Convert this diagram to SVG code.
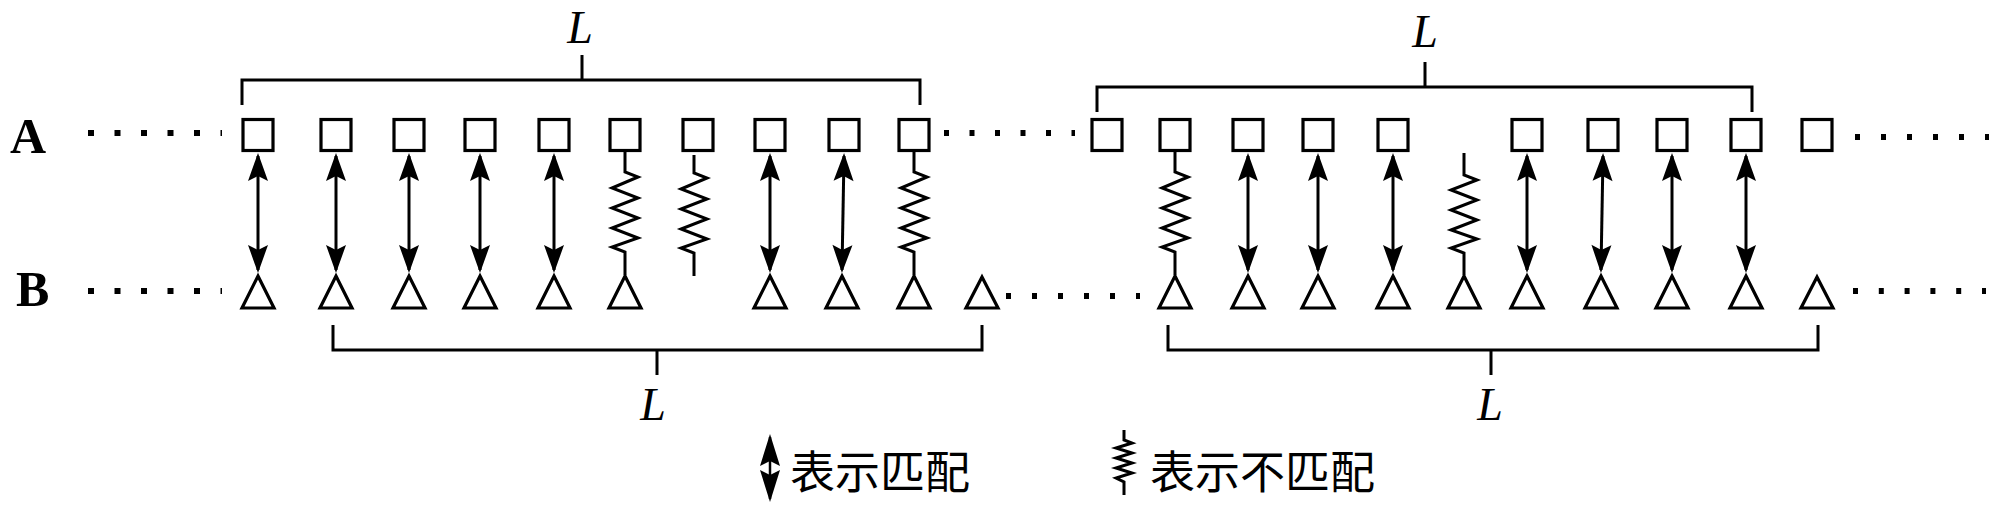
<svg xmlns="http://www.w3.org/2000/svg" width="2000" height="517" viewBox="0 0 2000 517">
<style>
.sq{fill:#fff;stroke:#000;stroke-width:3.2}
.tri{fill:#fff;stroke:#000;stroke-width:3.2;stroke-linejoin:miter}
.ln{stroke:#000;stroke-width:3;fill:none}
.ar{stroke:#000;stroke-width:3;fill:none;marker-start:url(#ah);marker-end:url(#ah)}
.zz{stroke:#000;stroke-width:3;fill:none;stroke-linejoin:miter}
.dots{stroke:#000;stroke-width:6;fill:none}
.lab{font-family:"Liberation Serif",serif;font-weight:bold;font-size:50px;fill:#000}
.L{font-family:"Liberation Serif",serif;font-style:italic;font-size:46px;fill:#000;text-anchor:middle}
.cjk{font-family:"Noto Sans CJK SC",sans-serif;font-size:45px;fill:#000}
</style>
<defs>
<marker id="ah" viewBox="-30 -12 32 24" refX="-3" refY="0" markerWidth="32" markerHeight="24" orient="auto-start-reverse" markerUnits="userSpaceOnUse">
<path d="M0,0 L-28,-10 L-23,0 L-28,10 Z" fill="#000"/>
</marker>
<marker id="ahl" viewBox="-34 -12 36 24" refX="-3" refY="0" markerWidth="36" markerHeight="24" orient="auto-start-reverse" markerUnits="userSpaceOnUse">
<path d="M0,0 L-32,-10 L-27,0 L-32,10 Z" fill="#000"/>
</marker>
</defs>
<rect width="2000" height="517" fill="#fff"/>

<g id="labels">
<text class="lab" x="10" y="153">A</text>
<text class="lab" x="16" y="306">B</text>
<text class="L" x="580" y="43">L</text>
<text class="L" x="1425" y="47">L</text>
<text class="L" x="653" y="420">L</text>
<text class="L" x="1490" y="420">L</text>
</g>

<g id="ellipses">
<line class="dots" x1="88" y1="133" x2="222" y2="133" stroke-dasharray="6 20.5"/>
<line class="dots" x1="88" y1="291" x2="222" y2="291" stroke-dasharray="6 20.5"/>
<line class="dots" x1="944" y1="133" x2="1075" y2="133" stroke-dasharray="5 20.5"/>
<line class="dots" x1="1006" y1="296" x2="1140" y2="296" stroke-dasharray="5 21"/>
<line class="dots" x1="1855" y1="137" x2="1989" y2="137" stroke-dasharray="5 21"/>
<line class="dots" x1="1853" y1="291" x2="1986" y2="291" stroke-dasharray="5 20.8"/>
</g>

<g id="brackets">
<path class="ln" d="M242,105 V80 H920 V105 M582,55 V80"/>
<path class="ln" d="M1097,112 V87 H1752 V112 M1425,62 V87"/>
<path class="ln" d="M333,325 V350 H982 V325 M657,350 V375"/>
<path class="ln" d="M1168,325 V350 H1818 V325 M1491,350 V375"/>
</g>

<g id="connectors">
<line class="ar" x1="258" y1="156" x2="258" y2="270"/>
<line class="ar" x1="336" y1="156" x2="336" y2="270"/>
<line class="ar" x1="409" y1="156" x2="409" y2="270"/>
<line class="ar" x1="480" y1="156" x2="480" y2="270"/>
<line class="ar" x1="554" y1="156" x2="554" y2="270"/>
<path class="zz" d="M625,152 V172 L638,177 L612,188 L638,198 L612,208 L638,218 L612,228 L638,238 L612,247 L625,252 V275"/>
<path class="zz" d="M694,155 V173 L707,178 L681,189 L707,199 L681,209 L707,219 L681,229 L707,239 L681,248 L694,253 V276"/>
<line class="ar" x1="770" y1="156" x2="770" y2="270"/>
<line class="ar" x1="844" y1="156" x2="842" y2="270"/>
<path class="zz" d="M914,152 V172 L927,177 L901,188 L927,198 L901,208 L927,218 L901,228 L927,238 L901,247 L914,252 V275"/>
<path class="zz" d="M1175,152 V172 L1188,177 L1162,188 L1188,198 L1162,208 L1188,218 L1162,228 L1188,238 L1162,247 L1175,252 V275"/>
<line class="ar" x1="1248" y1="156" x2="1248" y2="270"/>
<line class="ar" x1="1318" y1="156" x2="1318" y2="270"/>
<line class="ar" x1="1393" y1="156" x2="1393" y2="270"/>
<path class="zz" d="M1464,153 V175 L1477,180 L1451,190 L1477,200 L1451,210 L1477,220 L1451,230 L1477,239 L1451,248 L1464,253 V275"/>
<line class="ar" x1="1527" y1="156" x2="1527" y2="270"/>
<line class="ar" x1="1603" y1="156" x2="1601" y2="270"/>
<line class="ar" x1="1672" y1="156" x2="1672" y2="270"/>
<line class="ar" x1="1746" y1="156" x2="1746" y2="270"/>
</g>

<g id="nodesA">
<g id="a1"><rect class="sq" x="243" y="119.5" width="30" height="31"/></g>
<g id="a2"><rect class="sq" x="321" y="119.5" width="30" height="31"/></g>
<g id="a3"><rect class="sq" x="394" y="119.5" width="30" height="31"/></g>
<g id="a4"><rect class="sq" x="465" y="119.5" width="30" height="31"/></g>
<g id="a5"><rect class="sq" x="539" y="119.5" width="30" height="31"/></g>
<g id="a6"><rect class="sq" x="610" y="119.5" width="30" height="31"/></g>
<g id="a7"><rect class="sq" x="683" y="119.5" width="30" height="31"/></g>
<g id="a8"><rect class="sq" x="755" y="119.5" width="30" height="31"/></g>
<g id="a9"><rect class="sq" x="829" y="119.5" width="30" height="31"/></g>
<g id="a10"><rect class="sq" x="899" y="119.5" width="30" height="31"/></g>
<g id="a11"><rect class="sq" x="1092" y="119.5" width="30" height="31"/></g>
<g id="a12"><rect class="sq" x="1160" y="119.5" width="30" height="31"/></g>
<g id="a13"><rect class="sq" x="1233" y="119.5" width="30" height="31"/></g>
<g id="a14"><rect class="sq" x="1303" y="119.5" width="30" height="31"/></g>
<g id="a15"><rect class="sq" x="1378" y="119.5" width="30" height="31"/></g>
<g id="a16"><rect class="sq" x="1512" y="119.5" width="30" height="31"/></g>
<g id="a17"><rect class="sq" x="1588" y="119.5" width="30" height="31"/></g>
<g id="a18"><rect class="sq" x="1657" y="119.5" width="30" height="31"/></g>
<g id="a19"><rect class="sq" x="1731" y="119.5" width="30" height="31"/></g>
<g id="a20"><rect class="sq" x="1802" y="119.5" width="30" height="31"/></g>
</g>

<g id="nodesB">
<g id="b1"><polygon class="tri" points="258,276 274,308 242,308"/></g>
<g id="b2"><polygon class="tri" points="336,276 352,308 320,308"/></g>
<g id="b3"><polygon class="tri" points="409,276 425,308 393,308"/></g>
<g id="b4"><polygon class="tri" points="480,276 496,308 464,308"/></g>
<g id="b5"><polygon class="tri" points="554,276 570,308 538,308"/></g>
<g id="b6"><polygon class="tri" points="625,276 641,308 609,308"/></g>
<g id="b7"><polygon class="tri" points="770,276 786,308 754,308"/></g>
<g id="b8"><polygon class="tri" points="842,276 858,308 826,308"/></g>
<g id="b9"><polygon class="tri" points="914,276 930,308 898,308"/></g>
<g id="b10"><polygon class="tri" points="982,277 998,308 966,308"/></g>
<g id="b11"><polygon class="tri" points="1175,276 1191,308 1159,308"/></g>
<g id="b12"><polygon class="tri" points="1248,276 1264,308 1232,308"/></g>
<g id="b13"><polygon class="tri" points="1318,276 1334,308 1302,308"/></g>
<g id="b14"><polygon class="tri" points="1393,276 1409,308 1377,308"/></g>
<g id="b15"><polygon class="tri" points="1464,276 1480,308 1448,308"/></g>
<g id="b16"><polygon class="tri" points="1527,276 1543,308 1511,308"/></g>
<g id="b17"><polygon class="tri" points="1601,276 1617,308 1585,308"/></g>
<g id="b18"><polygon class="tri" points="1672,276 1688,308 1656,308"/></g>
<g id="b19"><polygon class="tri" points="1746,276 1762,308 1730,308"/></g>
<g id="b20"><polygon class="tri" points="1817,277 1833,308 1801,308"/></g>
</g>

<g id="legend">
<g id="legend-match">
<line x1="770" y1="437" x2="770" y2="499" stroke="#000" stroke-width="2.5" marker-start="url(#ahl)" marker-end="url(#ahl)"/>
<text class="cjk" x="790" y="489">表示匹配</text>
</g>
<g id="legend-mismatch">
<path class="zz" stroke-width="2.5" d="M1124,430 V440 L1132,443 L1116,448 L1132,453 L1116,458 L1132,463 L1116,468 L1132,473 L1116,478 L1124,482 V495"/>
<text class="cjk" x="1150" y="489">表示不匹配</text>
</g>
</g>
</svg>
